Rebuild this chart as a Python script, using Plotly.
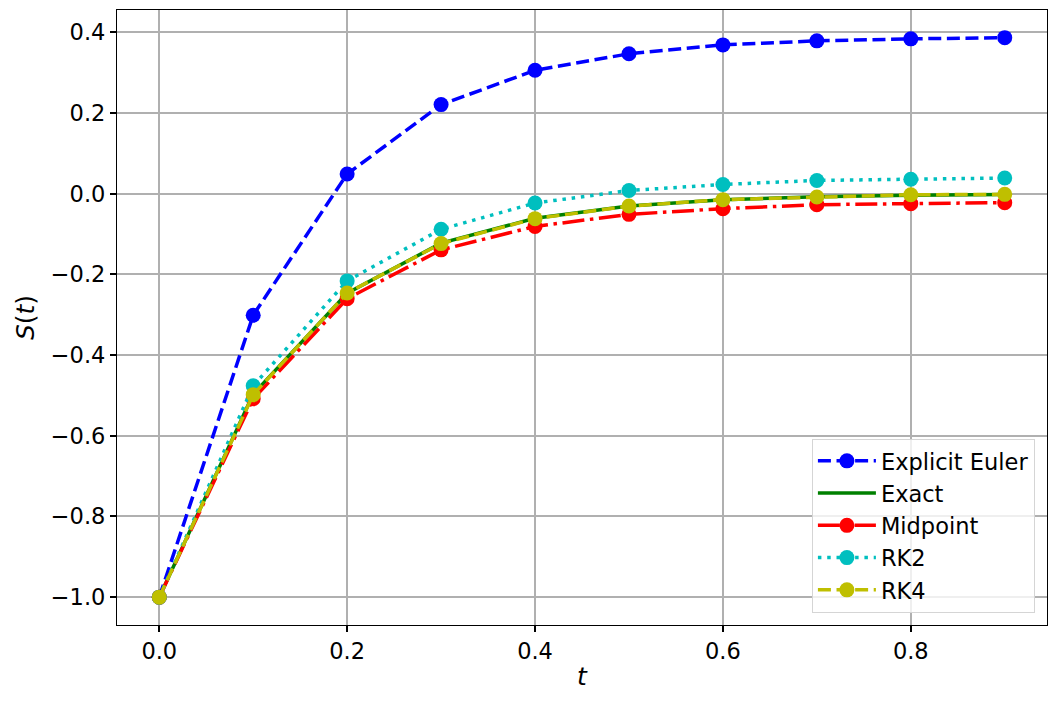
import plotly.graph_objects as go

t = [0.0, 0.1, 0.2, 0.3, 0.4, 0.5, 0.6, 0.7, 0.8, 0.9]
euler = [-1.0, -0.301, 0.049, 0.221, 0.306, 0.347, 0.369, 0.379, 0.384, 0.387]
exact = [-1.0, -0.4966, -0.2466, -0.1225, -0.0608, -0.0302, -0.0150, -0.0074, -0.0037, -0.0018]
midpoint = [-1.0, -0.508, -0.260, -0.139, -0.081, -0.051, -0.037, -0.027, -0.0245, -0.022]
rk2 = [-1.0, -0.476, -0.216, -0.088, -0.023, 0.008, 0.023, 0.033, 0.036, 0.039]
rk4 = [-1.0, -0.498, -0.246, -0.1236, -0.0617, -0.0305, -0.0146, -0.008, -0.0025, -0.0015]

FONT = "DejaVu Sans"
fig = go.Figure()

def add(name, y, color, dash, markers=True):
    fig.add_trace(go.Scatter(
        x=t, y=y, name=name,
        mode="lines+markers" if markers else "lines",
        line=dict(color=color, width=3.5, dash=dash),
        marker=dict(size=15, color=color, symbol="circle"),
    ))

add("Explicit Euler", euler, "#0000ff", "13px,5.6px")
add("Exact", exact, "#008000", "solid", markers=False)
add("Midpoint", midpoint, "#ff0000", "22px,5.6px,3.5px,5.6px")
add("RK2", rk2, "#00bfbf", "3.5px,5.8px")
add("RK4", rk4, "#bfbf00", "13px,5.6px")

axis_common = dict(
    showgrid=True, gridcolor="#b0b0b0", gridwidth=2,
    showline=True, linecolor="black", linewidth=1.25, mirror=True,
    ticks="outside", ticklen=6, tickwidth=1.5, tickcolor="black",
    tickfont=dict(family=FONT, size=22.5, color="black"),
    zeroline=False,
)

fig.update_layout(
    width=1055, height=708,
    margin=dict(l=117, r=8, t=10, b=83),
    paper_bgcolor="white", plot_bgcolor="white",
    font=dict(family=FONT, size=22, color="black"),
    xaxis=dict(range=[-0.045, 0.945], tickvals=[0.0, 0.2, 0.4, 0.6, 0.8],
               ticktext=["0.0", "0.2", "0.4", "0.6", "0.8"],
               title=dict(text="<i>t</i>", font=dict(family=FONT, size=25), standoff=4),
               automargin=False,
               **axis_common),
    yaxis=dict(range=[-1.069, 0.4555], tickvals=[-1.0, -0.8, -0.6, -0.4, -0.2, 0.0, 0.2, 0.4],
               ticktext=["\u22121.0", "\u22120.8", "\u22120.6", "\u22120.4", "\u22120.2", "0.0", "0.2", "0.4"],
               title=dict(text="<i>S</i>(<i>t</i>)", font=dict(family=FONT, size=25), standoff=8),
               automargin=False,
               **axis_common),
    legend=dict(x=0.987, y=0.02, xanchor="right", yanchor="bottom",
                bgcolor="rgba(255,255,255,0.8)", bordercolor="#d5d5d5", borderwidth=1,
                font=dict(family=FONT, size=22.5, color="black"),
                itemwidth=58, tracegroupgap=0),
    showlegend=True,
)

fig.write_html("out.html", post_script="document.body.style.margin='0';",
               config={"displayModeBar": False})
